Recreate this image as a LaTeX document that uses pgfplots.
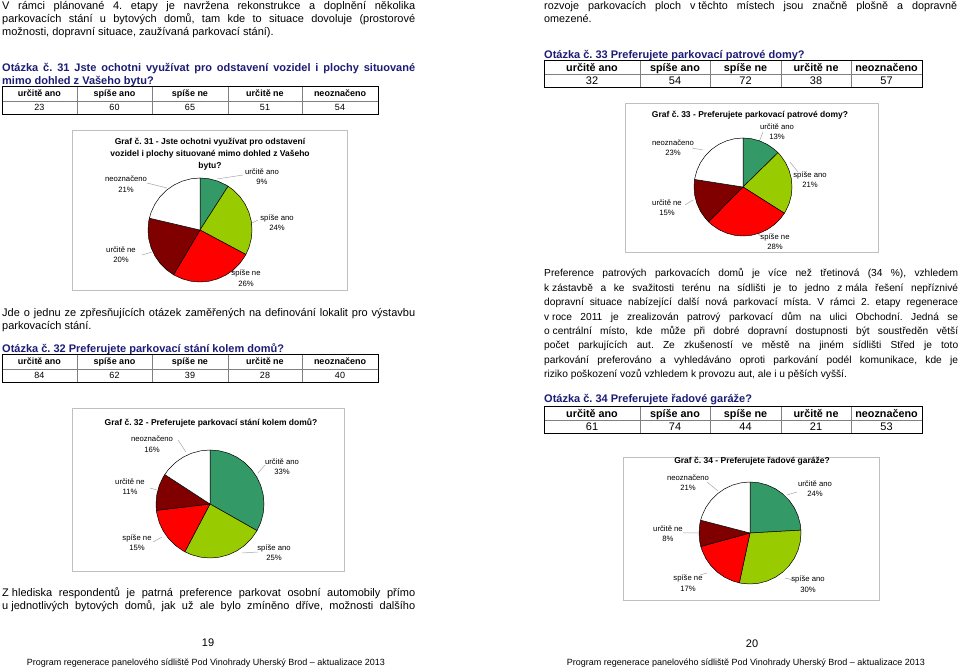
\documentclass[border=0pt]{standalone}
\usepackage{fontspec}
\setmainfont{Liberation Sans}
\usepackage{pgfplots}
\pgfplotsset{compat=1.18}
\usepgfplotslibrary{polar}
\definecolor{ua}{HTML}{339966}
\definecolor{sa}{HTML}{99CC00}
\definecolor{sn}{HTML}{FF0000}
\definecolor{un}{HTML}{800000}
\definecolor{hd}{RGB}{28,28,118}
\definecolor{fr}{HTML}{BFBFBF}
\definecolor{ld}{HTML}{A6A6A6}
\definecolor{tg}{HTML}{808080}
\newcommand\fs[1]{\fontsize{#1pt}{#1pt}\selectfont}
\newcommand\TJ[4]{\node[anchor=base west,inner sep=0pt] at (#1,#2) {\makebox[#3pt][s]{#4}};}
\newcommand\TL[3]{\node[anchor=base west,inner sep=0pt] at (#1,#2) {#3};}
\newcommand\TC[3]{\node[anchor=base,inner sep=0pt] at (#1,#2) {#3};}
\newcommand\nb{\kern0.28em}
\pgfplotsset{pie/.style={hide axis, scale only axis, xmin=0, xmax=360, ymin=0, ymax=1, clip=false, anchor=center},
  sl/.style={draw=black, line width=0.5pt, line join=round}}
\begin{document}
\frenchspacing
\begin{tikzpicture}
\path[use as bounding box] (0pt,0pt) rectangle (960pt,669pt);
\begin{scope}[x=1pt,y=-1pt,yshift=669pt]
% frames
\draw[fr, line width=0.75pt] (72,130) rectangle (347,290);
\draw[fr, line width=0.75pt] (72,408) rectangle (344,571);
\draw[fr, line width=0.75pt] (625,103) rectangle (878,252);
\draw[fr, line width=0.75pt] (623,457) rectangle (879,600);
% ---------- left page text
\fs{11}
\TJ{2}{10}{413}{V rámci plánované 4. etapy je navržena rekonstrukce a doplnění několika}
\TJ{2}{23}{413}{parkovacích stání u bytových domů, tam kde to situace dovoluje (prostorové}
\TL{2}{36}{možnosti, dopravní situace, zaužívaná parkovací stání).}
\TJ{2}{317}{413}{Jde o jednu ze zpřesňujících otázek zaměřených na definování lokalit pro výstavbu}
\TL{2}{330}{parkovacích stání.}
\TJ{2}{596}{413}{Z\nb hlediska respondentů je patrná preference parkovat osobní automobily přímo}
\TJ{2}{609}{413}{u\nb jednotlivých bytových domů, jak už ale bylo zmíněno dříve, možnosti dalšího}
\TC{208}{646}{19}
\TC{206}{665}{\fs{9}Program regenerace panelového sídliště Pod Vinohrady Uherský Brod – aktualizace 2013}
% headings left
\TJ{2}{72}{413}{\color{hd}\bfseries Otázka č. 31 Jste ochotni využívat pro odstavení vozidel i plochy situované}
\TL{2}{85}{\color{hd}\bfseries mimo dohled z Vašeho bytu?}
\TL{2}{353}{\color{hd}\bfseries Otázka č. 32 Preferujete parkovací stání kolem domů?}
% table 31
\draw[tg, line width=0.5pt] (77,87)--(77,115) (152,87)--(152,115) (228,87)--(228,115) (302,87)--(302,115) (2,101)--(378,101);
\draw[black, line width=1pt] (2,87) rectangle (378,115);
\TC{39.5}{97}{\fs{9}\bfseries určitě ano}
\TC{114.5}{97}{\fs{9}\bfseries spíše ano}
\TC{190}{97}{\fs{9}\bfseries spíše ne}
\TC{265}{97}{\fs{9}\bfseries určitě ne}
\TC{340}{97}{\fs{9}\bfseries neoznačeno}
\TC{39.5}{111}{\fs{9}23}
\TC{114.5}{111}{\fs{9}60}
\TC{190}{111}{\fs{9}65}
\TC{265}{111}{\fs{9}51}
\TC{340}{111}{\fs{9}54}
% table 32
\draw[tg, line width=0.5pt] (77,355)--(77,383) (152,355)--(152,383) (228,355)--(228,383) (302,355)--(302,383) (2,369)--(378,369);
\draw[black, line width=1pt] (2,355) rectangle (378,383);
\TC{39.5}{365}{\fs{9}\bfseries určitě ano}
\TC{114.5}{365}{\fs{9}\bfseries spíše ano}
\TC{190}{365}{\fs{9}\bfseries spíše ne}
\TC{265}{365}{\fs{9}\bfseries určitě ne}
\TC{340}{365}{\fs{9}\bfseries neoznačeno}
\TC{39.5}{379}{\fs{9}84}
\TC{114.5}{379}{\fs{9}62}
\TC{190}{379}{\fs{9}39}
\TC{265}{379}{\fs{9}28}
\TC{340}{379}{\fs{9}40}
% ---------- right page text
\fs{10.8}
\TJ{544}{10}{413}{rozvoje parkovacích ploch v\nb těchto místech jsou značně plošně a dopravně}
\TL{544}{23}{omezené.}
\fs{10.2}
\TJ{544}{277}{414}{Preference patrových parkovacích domů je více než třetinová (34 \%), vzhledem}
\TJ{544}{291.4}{414}{k\nb zástavbě a ke svažitosti terénu na sídlišti je to jedno z\nb mála řešení nepříznivé}
\TJ{544}{305.8}{414}{dopravní situace nabízející další nová parkovací místa. V rámci 2. etapy regenerace}
\TJ{544}{320.2}{414}{v\nb roce 2011 je zrealizován patrový parkovací dům na ulici Obchodní. Jedná se}
\TJ{544}{334.6}{414}{o\nb centrální místo, kde může při dobré dopravní dostupnosti být soustředěn větší}
\TJ{544}{349}{414}{počet parkujících aut. Ze zkušeností ve městě na jiném sídlišti Střed je toto}
\TJ{544}{363.4}{414}{parkování preferováno a vyhledáváno oproti parkování podél komunikace, kde je}
\TL{544}{377.8}{riziko poškození vozů vzhledem k provozu aut, ale i u pěších vyšší.}
\TC{752}{647}{\fs{11}20}
\TC{746}{665}{\fs{9}Program regenerace panelového sídliště Pod Vinohrady Uherský Brod – aktualizace 2013}
\TL{544}{59}{\fs{11}\color{hd}\bfseries Otázka č. 33 Preferujete parkovací patrové domy?}
\TL{544}{403}{\fs{11}\color{hd}\bfseries Otázka č. 34 Preferujete řadové garáže?}
% table 33
\draw[tg, line width=0.5pt] (640,61)--(640,88) (710,61)--(710,88) (781,61)--(781,88) (851,61)--(851,88) (544,74)--(922,74);
\draw[black, line width=1pt] (544,61) rectangle (922,88);
\TC{592}{71.5}{\fs{10.8}\bfseries určitě ano}
\TC{675}{71.5}{\fs{10.8}\bfseries spíše ano}
\TC{745.5}{71.5}{\fs{10.8}\bfseries spíše ne}
\TC{816}{71.5}{\fs{10.8}\bfseries určitě ne}
\TC{886.5}{71.5}{\fs{10.8}\bfseries neoznačeno}
\TC{592}{85}{\fs{11}32}
\TC{675}{85}{\fs{11}54}
\TC{745.5}{85}{\fs{11}72}
\TC{816}{85}{\fs{11}38}
\TC{886.5}{85}{\fs{11}57}
% table 34
\draw[tg, line width=0.5pt] (640,407)--(640,434) (710,407)--(710,434) (781,407)--(781,434) (851,407)--(851,434) (544,420)--(922,420);
\draw[black, line width=1pt] (544,407) rectangle (922,434);
\TC{592}{417.5}{\fs{10.8}\bfseries určitě ano}
\TC{675}{417.5}{\fs{10.8}\bfseries spíše ano}
\TC{745.5}{417.5}{\fs{10.8}\bfseries spíše ne}
\TC{816}{417.5}{\fs{10.8}\bfseries určitě ne}
\TC{886.5}{417.5}{\fs{10.8}\bfseries neoznačeno}
\TC{592}{431}{\fs{11}61}
\TC{675}{431}{\fs{11}74}
\TC{745.5}{431}{\fs{11}44}
\TC{816}{431}{\fs{11}21}
\TC{886.5}{431}{\fs{11}53}
% ---------- chart titles
\TC{210}{145}{\fs{8.5}\bfseries Graf č. 31 - Jste ochotni využívat pro odstavení}
\TC{210}{157}{\fs{8.5}\bfseries vozidel i plochy situované mimo dohled z Vašeho}
\TC{210}{168.5}{\fs{8.5}\bfseries bytu?}
\TC{211}{426}{\fs{8.5}\bfseries Graf č. 32 - Preferujete parkovací stání kolem domů?}
\TC{750}{118}{\fs{8.5}\bfseries Graf č. 33 - Preferujete parkovací patrové domy?}
\TC{752}{463.5}{\fs{8.5}\bfseries Graf č. 34 - Preferujete řadové garáže?}
% ---------- leader lines
\draw[ld, line width=0.5pt] (217,179)--(243,175) (248,225)--(258,220) (230,270)--(236,273) (142,255)--(152,252) (147,183)--(167,188);
\draw[ld, line width=0.5pt] (178,440)--(186,452) (258,473)--(265,465) (150,488)--(157,490) (153,542)--(162,537) (242,553)--(258,552);
\draw[ld, line width=0.5pt] (759,142)--(763,132) (790,162)--(798,172) (757,233)--(762,237) (685,205)--(693,200) (692,148)--(703,150);
\draw[ld, line width=0.5pt] (707,482)--(718,491) (787,495)--(797,492) (683,533)--(698,533) (700,575)--(707,573) (785,578)--(793,580);
% ---------- pie labels
\begin{scope}[every node/.append style={font=\fs{7.7}}]
\TC{262}{174.5}{určitě ano}\TC{262}{185}{9\%}
\TC{277}{220.5}{spíše ano}\TC{277}{231}{24\%}
\TC{246}{276}{spíše ne}\TC{246}{287}{26\%}
\TC{121}{252.5}{určitě ne}\TC{121}{263}{20\%}
\TC{126}{182}{neoznačeno}\TC{126}{192.5}{21\%}
\TC{152}{441.5}{neoznačeno}\TC{152}{452.5}{16\%}
\TC{282}{464.5}{určitě ano}\TC{282}{475}{33\%}
\TC{130}{484.5}{určitě ne}\TC{130}{495}{11\%}
\TC{137}{540.5}{spíše ne}\TC{137}{551}{15\%}
\TC{274}{550.5}{spíše ano}\TC{274}{561}{25\%}
\TC{777}{129.5}{určitě ano}\TC{777}{140}{13\%}
\TC{810}{177.5}{spíše ano}\TC{810}{188}{21\%}
\TC{775}{239.5}{spíše ne}\TC{775}{250}{28\%}
\TC{667}{205.5}{určitě ne}\TC{667}{216}{15\%}
\TC{673}{145.5}{neoznačeno}\TC{673}{156}{23\%}
\TC{688}{480.5}{neoznačeno}\TC{688}{491}{21\%}
\TC{815}{486.5}{určitě ano}\TC{815}{497}{24\%}
\TC{668}{531.5}{určitě ne}\TC{668}{542}{8\%}
\TC{688}{580.5}{spíše ne}\TC{688}{591}{17\%}
\TC{808}{581.5}{spíše ano}\TC{808}{592}{30\%}
\end{scope}
\end{scope}
% ---------- pies (counts 23,60,65,51,54)
\begin{polaraxis}[pie, at={(200pt,439pt)}, width=104pt, height=104pt]
\addplot[sl, fill=ua] coordinates {(0,0) (90,1) (80,1) (70,1) (60,1) (57.27,1) (0,0)};
\addplot[sl, fill=sa] coordinates {(0,0) (57.27,1) (50,1) (40,1) (30,1) (20,1) (10,1) (0,1) (-10,1) (-20,1) (-28.10,1) (0,0)};
\addplot[sl, fill=sn] coordinates {(0,0) (-28.10,1) (-30,1) (-40,1) (-50,1) (-60,1) (-70,1) (-80,1) (-90,1) (-100,1) (-110,1) (-120,1) (-120.59,1) (0,0)};
\addplot[sl, fill=un] coordinates {(0,0) (-120.59,1) (-130,1) (-140,1) (-150,1) (-160,1) (-170,1) (-180,1) (-190,1) (-193.16,1) (0,0)};
\addplot[sl, fill=white] coordinates {(0,0) (-193.16,1) (-200,1) (-210,1) (-220,1) (-230,1) (-240,1) (-250,1) (-260,1) (-270,1) (0,0)};
\end{polaraxis}
% counts 84,62,39,28,40
\begin{polaraxis}[pie, at={(210pt,165pt)}, width=108pt, height=108pt]
\addplot[sl, fill=ua] coordinates {(0,0) (90,1) (80,1) (70,1) (60,1) (50,1) (40,1) (30,1) (20,1) (10,1) (0,1) (-10,1) (-20,1) (-29.53,1) (0,0)};
\addplot[sl, fill=sa] coordinates {(0,0) (-29.53,1) (-30,1) (-40,1) (-50,1) (-60,1) (-70,1) (-80,1) (-90,1) (-100,1) (-110,1) (-117.75,1) (0,0)};
\addplot[sl, fill=sn] coordinates {(0,0) (-117.75,1) (-120,1) (-130,1) (-140,1) (-150,1) (-160,1) (-170,1) (-173.24,1) (0,0)};
\addplot[sl, fill=un] coordinates {(0,0) (-173.24,1) (-180,1) (-190,1) (-200,1) (-210,1) (-213.08,1) (0,0)};
\addplot[sl, fill=white] coordinates {(0,0) (-213.08,1) (-220,1) (-230,1) (-240,1) (-250,1) (-260,1) (-270,1) (0,0)};
\end{polaraxis}
% counts 32,54,72,38,57
\begin{polaraxis}[pie, at={(743pt,482pt)}, width=98pt, height=98pt]
\addplot[sl, fill=ua] coordinates {(0,0) (90,1) (80,1) (70,1) (60,1) (50,1) (44.47,1) (0,0)};
\addplot[sl, fill=sa] coordinates {(0,0) (44.47,1) (40,1) (30,1) (20,1) (10,1) (0,1) (-10,1) (-20,1) (-30,1) (-32.37,1) (0,0)};
\addplot[sl, fill=sn] coordinates {(0,0) (-32.37,1) (-40,1) (-50,1) (-60,1) (-70,1) (-80,1) (-90,1) (-100,1) (-110,1) (-120,1) (-130,1) (-134.82,1) (0,0)};
\addplot[sl, fill=un] coordinates {(0,0) (-134.82,1) (-140,1) (-150,1) (-160,1) (-170,1) (-180,1) (-188.89,1) (0,0)};
\addplot[sl, fill=white] coordinates {(0,0) (-188.89,1) (-190,1) (-200,1) (-210,1) (-220,1) (-230,1) (-240,1) (-250,1) (-260,1) (-270,1) (0,0)};
\end{polaraxis}
% counts 61,74,44,21,53
\begin{polaraxis}[pie, at={(750pt,136pt)}, width=102pt, height=102pt]
\addplot[sl, fill=ua] coordinates {(0,0) (90,1) (80,1) (70,1) (60,1) (50,1) (40,1) (30,1) (20,1) (10,1) (3.20,1) (0,0)};
\addplot[sl, fill=sa] coordinates {(0,0) (3.20,1) (0,1) (-10,1) (-20,1) (-30,1) (-40,1) (-50,1) (-60,1) (-70,1) (-80,1) (-90,1) (-100,1) (-102.09,1) (0,0)};
\addplot[sl, fill=sn] coordinates {(0,0) (-102.09,1) (-110,1) (-120,1) (-130,1) (-140,1) (-150,1) (-160,1) (-164.70,1) (0,0)};
\addplot[sl, fill=un] coordinates {(0,0) (-164.70,1) (-170,1) (-180,1) (-190,1) (-194.58,1) (0,0)};
\addplot[sl, fill=white] coordinates {(0,0) (-194.58,1) (-200,1) (-210,1) (-220,1) (-230,1) (-240,1) (-250,1) (-260,1) (-270,1) (0,0)};
\end{polaraxis}
\end{tikzpicture}
\end{document}
